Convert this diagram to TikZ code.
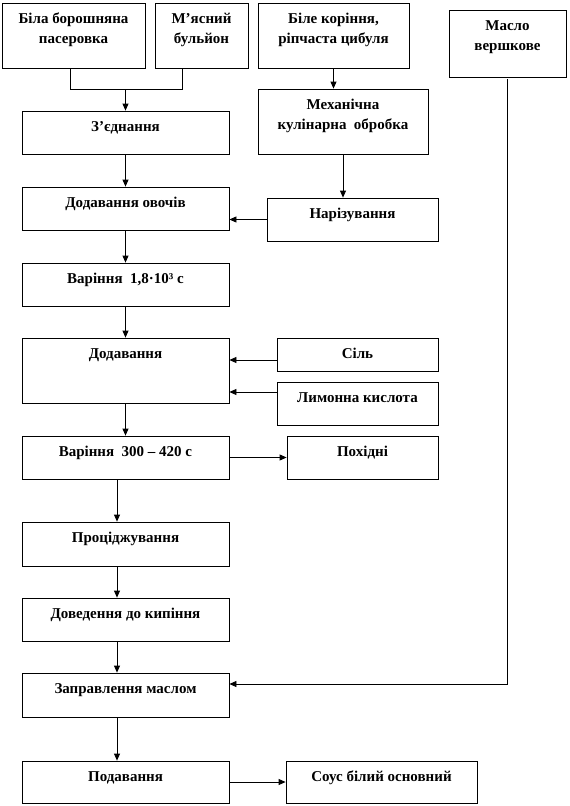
\documentclass[tikz,border=0pt]{standalone}
\usepackage{fontspec}
\setmainfont{Liberation Serif}
\usetikzlibrary{arrows.meta}
\newcommand{\bxt}[3]{\parbox[c][#2][t]{#1}{\centering\rule{0pt}{20.5pt}#3\par}}
\tikzset{
  box/.style={draw, line width=0.8pt, inner sep=0pt,
    font=\bfseries\fontsize{15}{19.5}\selectfont},
  conn/.style={line width=0.8pt},
  arr/.style={line width=0.8pt, -{Triangle[length=7pt,width=6pt]}}
}
\begin{document}
\begin{tikzpicture}[x=1pt,y=-1pt]
\useasboundingbox (0,0) rectangle (570,806);
% top row
\node[box] (b1) at (73.5,35.5) {\bxt{143pt}{65pt}{Біла борошняна\\пасеровка}};
\node[box] (b2) at (201.5,35.5) {\bxt{93pt}{65pt}{М’ясний\\бульйон}};
\node[box] (b3) at (333.5,35.5) {\bxt{151pt}{65pt}{Біле коріння,\\ріпчаста цибуля}};
\node[box] (b4) at (507.5,43.5) {\bxt{117pt}{67pt}{Масло\\вершкове}};
% main column
\node[box] (b5) at (125.5,132.5) {\bxt{207pt}{43pt}{З’єднання}};
\node[box] (b6) at (343,121.5) {\bxt{170pt}{65pt}{Механічна\\кулінарна~ обробка}};
\node[box] (b7) at (125.5,208.5) {\bxt{207pt}{43pt}{Додавання овочів}};
\node[box] (b8) at (352.5,219.5) {\bxt{171pt}{43pt}{Нарізування}};
\node[box] (b9) at (125.5,284.5) {\bxt{207pt}{43pt}{Варіння~ 1,8·10³ с}};
\node[box] (b10) at (125.5,370.5) {\bxt{207pt}{65pt}{Додавання}};
\node[box] (b11) at (357.5,354.5) {\bxt{161pt}{33pt}{Сіль}};
\node[box] (b12) at (357.5,403.5) {\bxt{161pt}{43pt}{Лимонна кислота}};
\node[box] (b13) at (125.5,457.5) {\bxt{207pt}{43pt}{Варіння~ 300 – 420 с}};
\node[box] (b14) at (362.5,457.5) {\bxt{151pt}{43pt}{Похідні}};
\node[box] (b15) at (125.5,544) {\bxt{207pt}{44pt}{Проціджування}};
\node[box] (b16) at (125.5,619.5) {\bxt{207pt}{43pt}{Доведення до кипіння}};
\node[box] (b17) at (125.5,695) {\bxt{207pt}{44pt}{Заправлення маслом}};
\node[box] (b18) at (125.5,782) {\bxt{207pt}{42pt}{Подавання}};
\node[box] (b19) at (381.5,782) {\bxt{191pt}{42pt}{Соус білий основний}};
% connectors
\coordinate (j1) at (125.5,89);
\draw[conn] ([xshift=-3.5pt]b1.south) -- ++(0,21) -| ([xshift=-19.5pt]b2.south);
\draw[arr] (j1) -- (b5.north);
\draw[arr] (b3.south) -- (b3.south |- b6.north);
\draw[arr] (b6.south) -- (b6.south |- b8.north);
\draw[arr] (b8.west) -- (b8.west -| b7.east);
\draw[arr] (b5.south) -- (b7.north);
\draw[arr] (b7.south) -- (b9.north);
\draw[arr] (b9.south) -- (b10.north);
\draw[arr] ([yshift=-5.5pt]b11.west) -- ([yshift=-5.5pt]b11.west -| b10.east);
\draw[arr] ([yshift=11.5pt]b12.west) -- ([yshift=11.5pt]b12.west -| b10.east);
\draw[arr] (b10.south) -- (b13.north);
\draw[arr] (b13.east) -- (b14.west);
\draw[arr] ([xshift=-8.5pt]b13.south) -- ([xshift=-8.5pt]b15.north);
\draw[arr] ([xshift=-8.5pt]b15.south) -- ([xshift=-8.5pt]b16.north);
\draw[arr] ([xshift=-8.5pt]b16.south) -- ([xshift=-8.5pt]b17.north);
\draw[arr] ([xshift=-8.5pt]b17.south) -- ([xshift=-8.5pt]b18.north);
\draw[arr] ([yshift=-2pt]b4.south) |- ([yshift=11pt]b17.east);
\draw[arr] (b18.east) -- (b19.west);
\end{tikzpicture}
\end{document}
